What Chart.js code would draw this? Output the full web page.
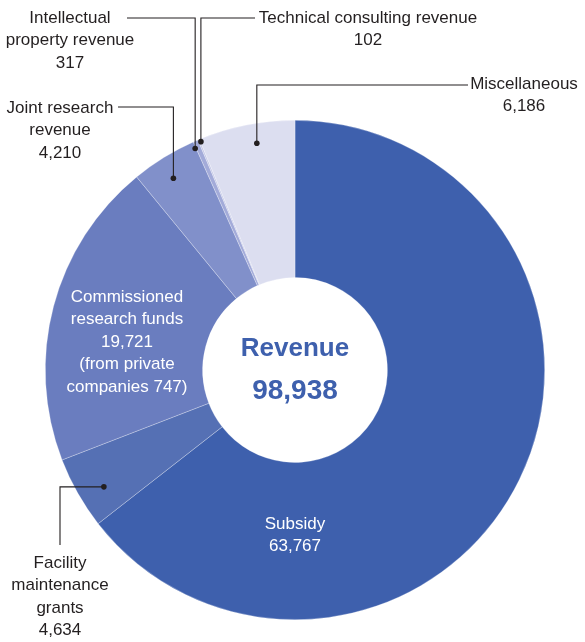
<!DOCTYPE html>
<html>
<head>
<meta charset="utf-8">
<script src="https://cdn.jsdelivr.net/npm/chart.js@4.4.1/dist/chart.umd.min.js"></script>
<style>
  body { margin: 0; background: #fff; }
  #revenueChart { display: block; }
</style>
</head>
<body>
<canvas id="revenueChart" width="585" height="642"></canvas>
<script>
// revenue breakdown, clockwise from 12 o'clock
const categories = ['Subsidy', 'Facility maintenance grants', 'Commissioned research funds',
  'Joint research revenue', 'Intellectual property revenue', 'Technical consulting revenue', 'Miscellaneous'];
const values = [63767, 4634, 19721, 4210, 317, 102, 6186];
const privateCompanies = [747];
const totalRevenue = [98938];
const sliceColors = ['#3e60ad', '#5570b4', '#6a7dbf', '#8190ca', '#a3abd9', '#c3c7e6', '#dcdef0'];

const fmt = (n) => n.toLocaleString('en-US');

// label layout: lines, text anchor, dot radius / angle nudge (deg), leader route
const labelLayout = [
  { lines: ['Subsidy', fmt(values[0])], x: 295, y: 524, color: '#fff' },
  { lines: ['Facility', 'maintenance', 'grants', fmt(values[1])], x: 60, y: 563, dotR: 224, nudge: -1.9, leader: 'down', elbowX: 60, endY: 545 },
  { lines: ['Commissioned', 'research funds', fmt(values[2]), '(from private', 'companies ' + fmt(privateCompanies[0]) + ')'], x: 127, y: 297, color: '#fff' },
  { lines: ['Joint research', 'revenue', fmt(values[3])], x: 60, y: 108, dotR: 227, nudge: -0.7, leader: 'up', lineY: 107, endX: 118 },
  { lines: ['Intellectual', 'property revenue', fmt(values[4])], x: 70, y: 18, dotR: 243, nudge: -0.8, leader: 'up', lineY: 18, endX: 127 },
  { lines: ['Technical consulting revenue', fmt(values[5])], x: 368, y: 18, dotR: 247, nudge: 0.3, leader: 'up', lineY: 18, endX: 255 },
  { lines: ['Miscellaneous', fmt(values[6])], x: 524, y: 84, dotR: 230, nudge: 1.7, leader: 'up', lineY: 85, endX: 468 }
];

const FONT = '"Liberation Sans", Arial, Helvetica, sans-serif';
const TEXT = '#231f20';

const labelsPlugin = {
  id: 'labelsPlugin',
  afterDatasetsDraw(chart) {
    const ctx = chart.ctx;
    const arcs = chart.getDatasetMeta(0).data;
    ctx.save();
    labelLayout.forEach((lab, i) => {
      if (lab.dotR) {
        const arc = arcs[i];
        const mid = (arc.startAngle + arc.endAngle) / 2 + lab.nudge * Math.PI / 180;
        const dx = arc.x + Math.cos(mid) * lab.dotR;
        const dy = arc.y + Math.sin(mid) * lab.dotR;
        ctx.strokeStyle = TEXT;
        ctx.lineWidth = 1.1;
        ctx.beginPath();
        ctx.moveTo(dx, dy);
        if (lab.leader === 'up') {
          ctx.lineTo(dx, lab.lineY);
          ctx.lineTo(lab.endX, lab.lineY);
        } else {
          ctx.lineTo(lab.elbowX, dy);
          ctx.lineTo(lab.elbowX, lab.endY);
        }
        ctx.stroke();
        ctx.fillStyle = TEXT;
        ctx.beginPath();
        ctx.arc(dx, dy, 2.8, 0, Math.PI * 2);
        ctx.fill();
      }
      ctx.fillStyle = lab.color || TEXT;
      ctx.font = '17px ' + FONT;
      ctx.textAlign = 'center';
      ctx.textBaseline = 'middle';
      lab.lines.forEach((line, j) => {
        ctx.fillText(line, lab.x, lab.y + j * 22.6);
      });
    });

    // centre title
    const arc0 = arcs[0];
    ctx.fillStyle = '#3e60ad';
    ctx.font = 'bold 26px ' + FONT;
    ctx.fillText('Revenue', arc0.x, arc0.y - 21);
    ctx.font = 'bold 28px ' + FONT;
    ctx.fillText(fmt(totalRevenue[0]), arc0.x, arc0.y + 21);
    ctx.restore();
  }
};

new Chart(document.getElementById('revenueChart').getContext('2d'), {
  type: 'doughnut',
  data: {
    labels: categories,
    datasets: [{
      data: values,
      backgroundColor: sliceColors,
      borderColor: 'rgba(255,255,255,0.45)',
      borderWidth: 0.6
    }]
  },
  options: {
    responsive: false,
    animation: false,
    cutout: '37%',
    layout: { padding: { left: 45, right: 40, top: 120, bottom: 22 } },
    plugins: {
      legend: { display: false },
      tooltip: { enabled: false }
    }
  },
  plugins: [labelsPlugin]
});
</script>
</body>
</html>
